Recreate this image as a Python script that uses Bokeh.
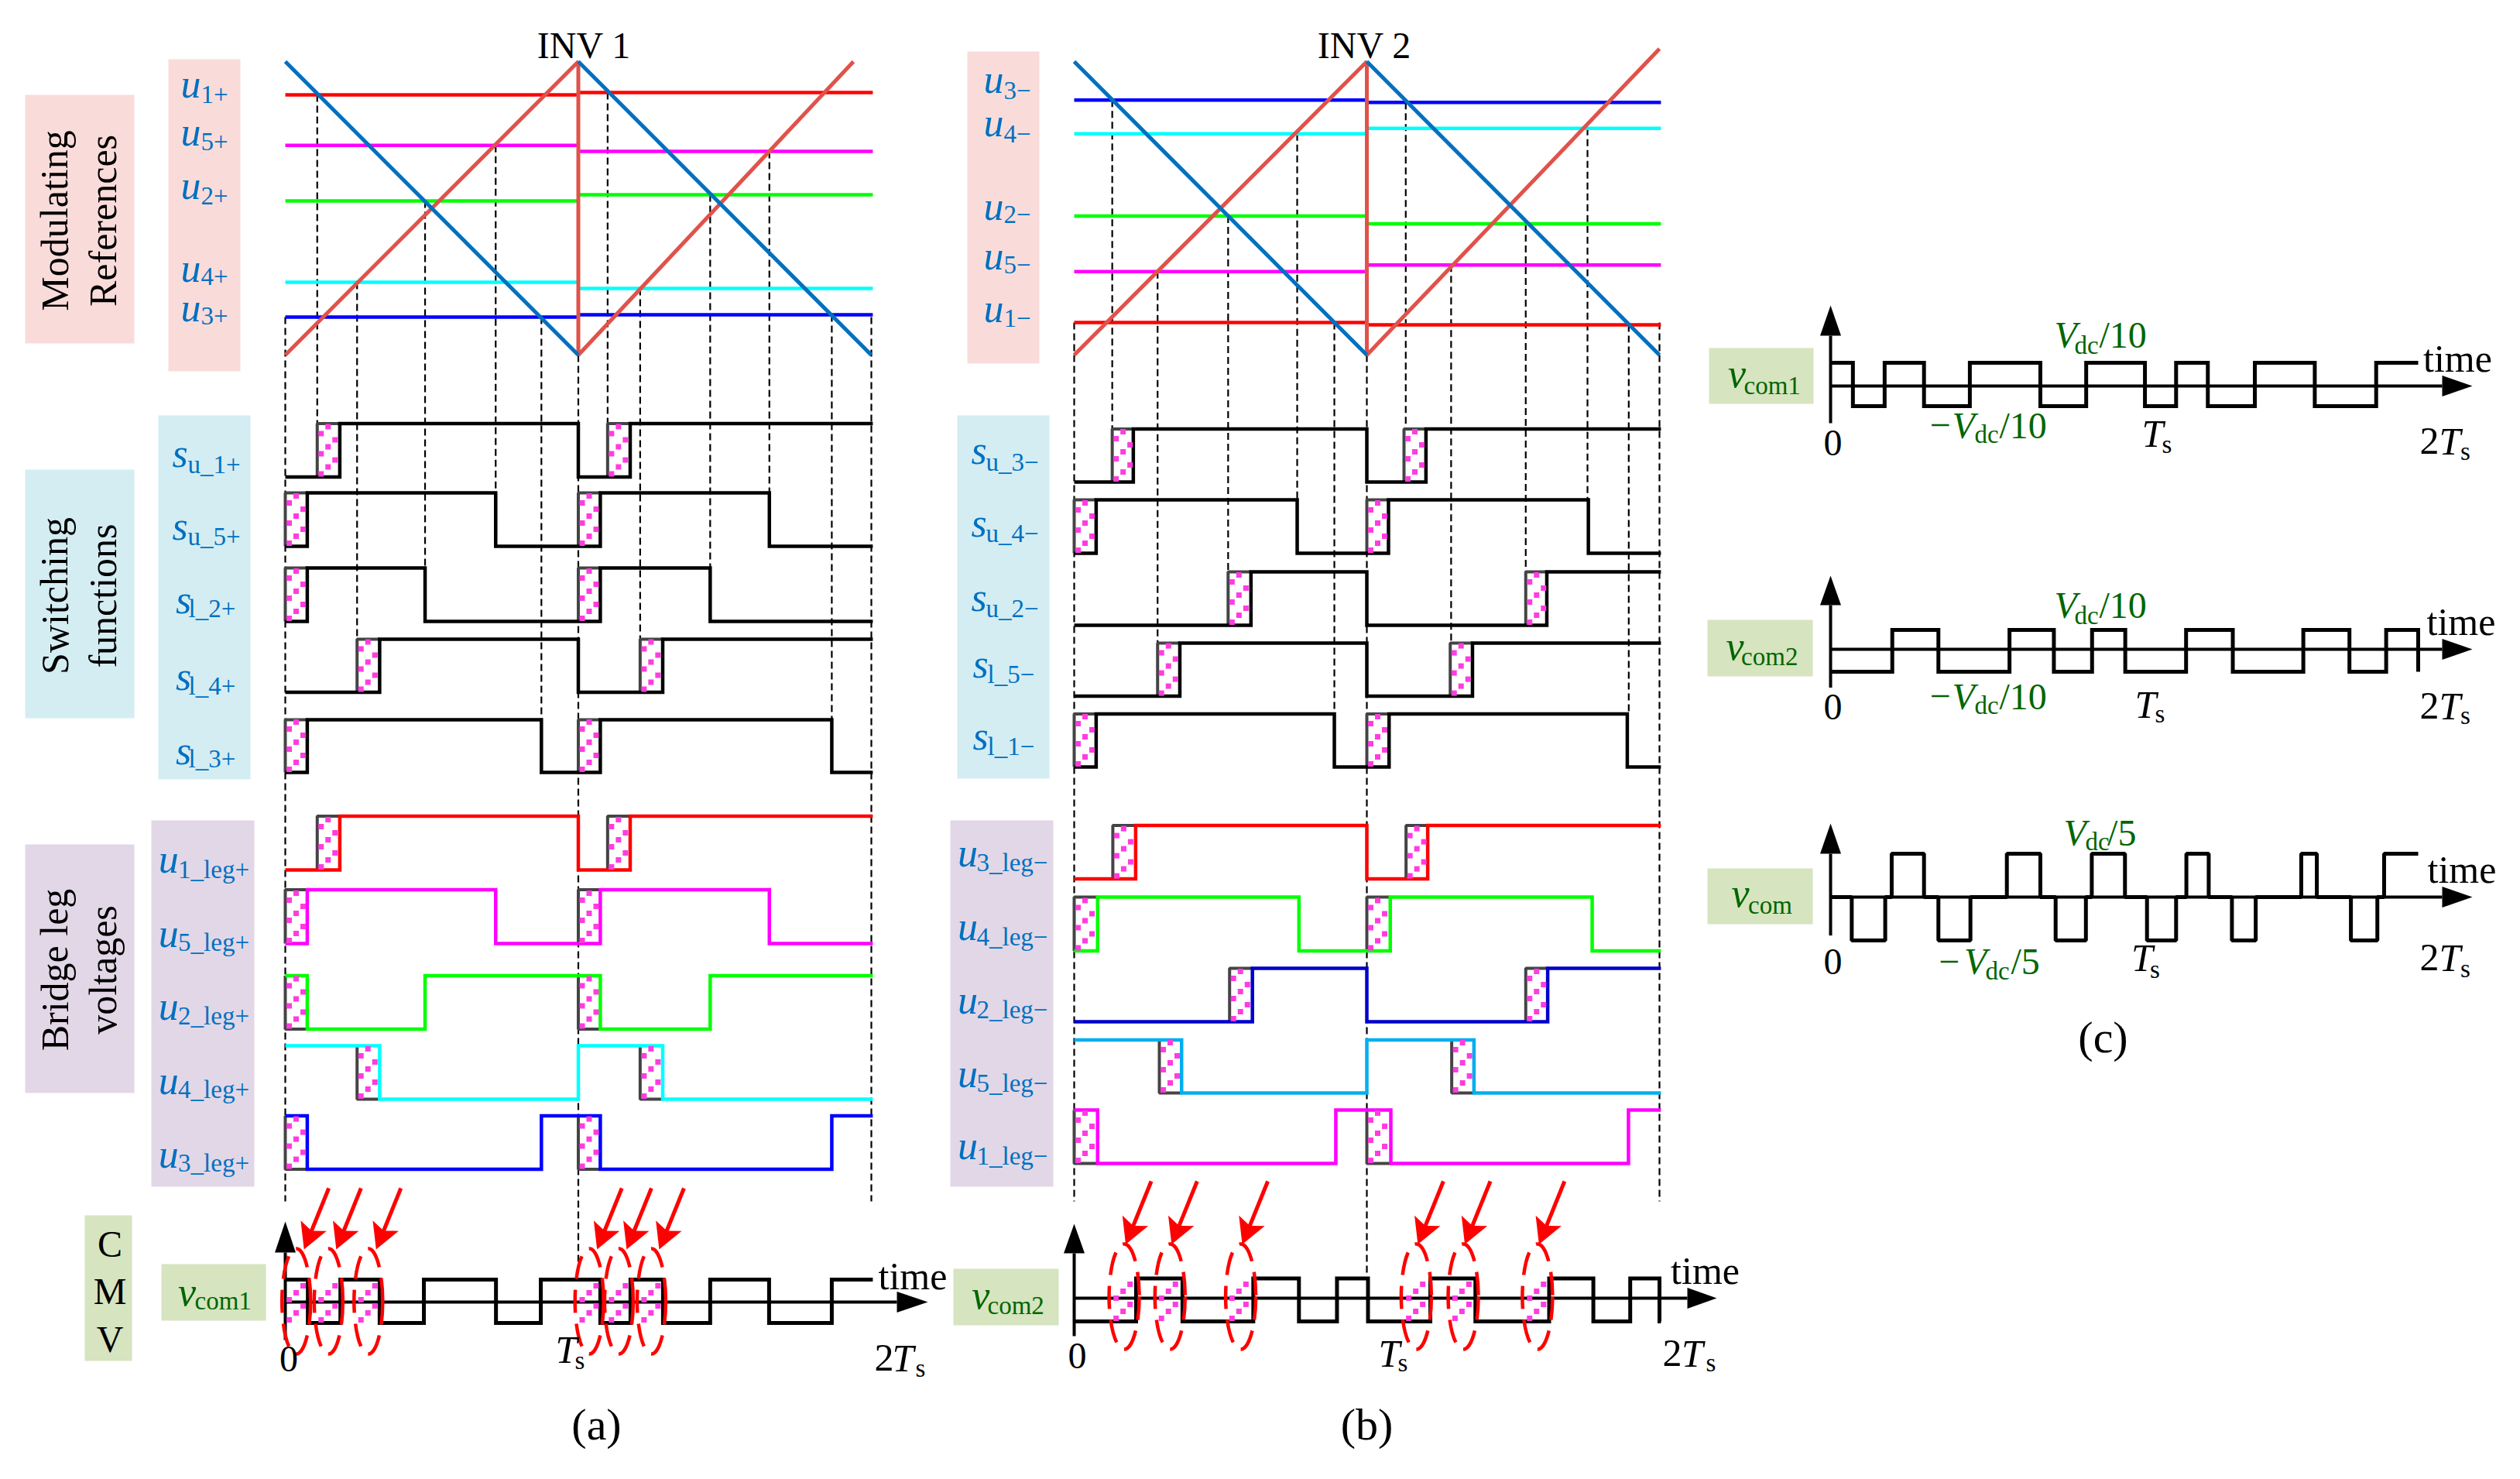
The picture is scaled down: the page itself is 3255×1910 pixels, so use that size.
from bokeh.plotting import figure
from bokeh.models import ColumnDataSource
from bokeh.core.properties import value, field
from bokeh.embed import file_html
from bokeh.resources import INLINE
import math

# ---------------- data: switching instants in units of Ts, references in p.u. ----------------
# INV 1 modulating references (first Ts, second Ts), carrier peak = +1, trough = -1
a_refs = {"u1": (0.773, 0.789), "u5": (0.429, 0.388), "u2": (0.050, 0.092), "u4": (-0.504, -0.546), "u3": (-0.741, -0.726)}
b_refs = {"u3": (0.737, 0.721), "u4": (0.508, 0.545), "u2": (-0.053, -0.106), "u5": (-0.431, -0.386), "u1": (-0.778, -0.794)}
# crossing instants
a_cross = [0.109, 0.245, 0.477, 0.718, 0.874, 1.100, 1.211, 1.450, 1.652, 1.865]
b_cross = [0.130, 0.285, 0.526, 0.762, 0.889, 1.133, 1.288, 1.543, 1.754, 1.895]
# switching functions: (initial state, transitions)
a_s1 = (0, [0.186, 1.0, 1.177])
a_s5 = (0, [0.075, 0.718, 1.075, 1.652])
a_s2 = (0, [0.075, 0.477, 1.075, 1.450])
a_s4 = (0, [0.322, 1.0, 1.288])
a_s3 = (0, [0.075, 0.874, 1.075, 1.865])
b_s3 = (0, [0.202, 1.0, 1.202])
b_s4 = (0, [0.075, 0.762, 1.074, 1.757])
b_s2 = (0, [0.604, 1.0, 1.615])
b_s5 = (0, [0.361, 1.0, 1.361])
b_s1 = (0, [0.075, 0.889, 1.076, 1.890])
# bridge leg voltages
a_l1 = (0, [0.186, 1.0, 1.177])
a_l5 = (0, [0.075, 0.718, 1.075, 1.652])
a_l2 = (1, [0.075, 0.477, 1.075, 1.450])
a_l4 = (1, [0.322, 1.0, 1.288])
a_l3 = (1, [0.075, 0.874, 1.075, 1.865])
b_l3 = (0, [0.210, 1.0, 1.208])
b_l4 = (0, [0.080, 0.768, 1.080, 1.770])
b_l2 = (0, [0.609, 1.0, 1.618])
b_l5 = (1, [0.367, 1.0, 1.366])
b_l1 = (1, [0.080, 0.894, 1.082, 1.894])
# common-mode voltages
a_com = (1, [0.077, 0.188, 0.322, 0.473, 0.719, 0.872, 1.075, 1.178, 1.289, 1.450, 1.651, 1.865])
b_com = (0, [0.2115, 0.370, 0.612, 0.768, 0.898, 1.004, 1.217, 1.371, 1.623, 1.774, 1.900, 2.0])
c_com1 = (1, [0.076, 0.184, 0.318, 0.474, 0.714, 0.870, 1.070, 1.176, 1.284, 1.444, 1.648, 1.857])
c_com2 = (0, [0.210, 0.367, 0.609, 0.760, 0.890, 1.003, 1.210, 1.369, 1.609, 1.766, 1.891, 2.0])
c_com_t = [0.072, 0.186, 0.208, 0.318, 0.367, 0.476, 0.600, 0.714, 0.766, 0.869, 0.889, 1.002,
           1.077, 1.176, 1.211, 1.287, 1.366, 1.447, 1.602, 1.655, 1.771, 1.861, 1.884]
c_com_v = [0, -1, 0, 1, 0, -1, 0, 1, 0, -1, 0, 1, 0, -1, 0, 1, 0, -1, 0, 1, 0, -1, 0, 1]
# intervals with dead-time hatching
a_h_late1 = [(0.109, 0.186), (1.100, 1.177)]
a_h_first = [(0.0, 0.075), (1.0, 1.075)]
a_h_late2 = [(0.245, 0.322), (1.211, 1.288)]
b_h3 = [(0.130, 0.202), (1.127, 1.202)]
b_h_first = [(0.0, 0.075), (1.0, 1.074)]
b_h2 = [(0.526, 0.602), (1.543, 1.615)]
b_h5 = [(0.285, 0.361), (1.285, 1.361)]

# ---------------- layout helpers (the figure's scale is the reference's pixel grid) ----------------
W, H = 3239, 1894
p = figure(width=W, height=H, x_range=(0, W), y_range=(H, 0), output_backend="svg",
           toolbar_location=None, x_axis_type=None, y_axis_type=None, min_border=0,
           outline_line_color=None, background_fill_color="white", border_fill_color="white")
p.grid.visible = False

PA = (368.0, 378.5)
PB = (1387.0, 378.0)
PC = (2364.0, 379.5)
def X(P, t): return P[0] + P[1] * t

def box(x0, x1, y0, y1, c):
    p.quad(left=x0, right=x1, top=y0, bottom=y1, fill_color=c, line_color=None)

PINK, CYANBOX, LILAC, GREENBOX = "#F9DCDA", "#D3EDF3", "#E2D7E7", "#D6E4BF"
box(32, 173, 122, 443, PINK); box(217, 310, 76, 479, PINK)
box(32, 173, 606, 927, CYANBOX); box(204, 323, 536, 1006, CYANBOX)
box(32, 173, 1090, 1411, LILAC); box(195, 328, 1059, 1532, LILAC)
box(109, 170, 1569, 1757, GREENBOX); box(208, 343, 1632, 1705, GREENBOX)
box(1249, 1342, 66, 469, PINK); box(1236, 1355, 536, 1005, CYANBOX)
box(1227, 1360, 1059, 1532, LILAC); box(1231, 1367, 1638, 1711, GREENBOX)
box(2207, 2342, 449, 521, GREENBOX); box(2205, 2341, 800, 873, GREENBOX); box(2205, 2341, 1121, 1193, GREENBOX)

def wave(P, spec, hi, lo, color, width=4.5, end=2.005):
    st, ts = spec
    xs, ys = [X(P, 0)], [hi if st else lo]
    for t in ts:
        xs += [X(P, t), X(P, t)]
        ys += [hi if st else lo, lo if st else hi]
        st = 1 - st
    xs.append(X(P, end)); ys.append(hi if st else lo)
    p.line(xs, ys, line_color=color, line_width=width, line_join="miter")

def dashes(xs, y0, y1):
    p.multi_line([[x, x] for x in xs], [[a, b] for a, b in zip(y0, y1)], line_color="black",
                 line_width=2.2, line_dash="9 5")

sq_x, sq_y = [], []
def hatch(P, iv, y0, y1, edge=None):
    step, period = 9.0, 26.0
    for a, b in iv:
        xa, xb = X(P, a), X(P, b)
        c = 0
        x = xa + 5
        while x < xb - 2:
            k = -3
            while k < 12:
                y = y1 - 4 - c * step + (k * period)
                if y0 + 2 < y < y1 - 1:
                    sq_x.append(x); sq_y.append(y)
                k += 1
            x += step; c += 1
        if edge:
            yy = y0 if edge == "top" else y1
            p.line([xa, xa, xb], [y1 if edge == "top" else y0, yy, yy], line_color="#444444", line_width=4)

# modulating references and carriers
YT, YB = 79.0, 458.0
def Y(m): return YT + (1 - m) * (YB - YT) / 2.0
REFCOL = {"u1": "#FF0000", "u5": "#FF00FF", "u2": "#00FF00", "u4": "#00FFFF", "u3": "#0000FF"}

def refpanel(P, refs, colmap, red_end, cross, crossrefs, crosstops):
    # dashed drop-lines first
    x0s = [X(P, 0), X(P, 2)]
    for x, b in zip(x0s, [1551, 1551]):
        dashes([x], [Y(refs[list(refs)[-1]][0])], [b])
    dashes([X(P, 1)], [YB], [1645])
    dashes([X(P, t) for t in cross], [Y(m) for m in crossrefs], crosstops)
    for k, (m1, m2) in refs.items():
        c = colmap[k]
        p.line([X(P, 0), X(P, 1)], [Y(m1), Y(m1)], line_color=c, line_width=4.5)
        p.line([X(P, 1), X(P, 2.005)], [Y(m2), Y(m2)], line_color=c, line_width=4.5)
    p.line([X(P, 0), X(P, 1), X(P, 1), X(P, red_end[0])], [YB, YT, YB, red_end[1]], line_color="#E0524A", line_width=5)
    p.line([X(P, 0), X(P, 1)], [YT, YB], line_color="#0070C0", line_width=5)
    p.line([X(P, 1), X(P, 2)], [YT, YB], line_color="#0070C0", line_width=5)

refpanel(PA, a_refs, REFCOL, (1.939, YT), a_cross,
         [a_refs["u1"][0], a_refs["u4"][0], a_refs["u2"][0], a_refs["u5"][0], a_refs["u3"][0],
          a_refs["u1"][1], a_refs["u4"][1], a_refs["u2"][1], a_refs["u5"][1], a_refs["u3"][1]],
         [546.5, 825, 733, 636, 929, 546.5, 825, 733, 636, 929])
refpanel(PB, b_refs, REFCOL, (2.0, 62.5), b_cross,
         [b_refs["u3"][0], b_refs["u5"][0], b_refs["u2"][0], b_refs["u4"][0], b_refs["u1"][0],
          b_refs["u3"][1], b_refs["u5"][1], b_refs["u2"][1], b_refs["u4"][1], b_refs["u1"][1]],
         [553.5, 830, 738, 645, 921.5, 553.5, 830, 738, 645, 921.5])

# switching functions
for spec, iv, hi, lo in [(a_s1, a_h_late1, 546.5, 615.5), (a_s5, a_h_first, 636, 705), (a_s2, a_h_first, 733, 802),
                         (a_s4, a_h_late2, 825, 893.5), (a_s3, a_h_first, 929, 997)]:
    hatch(PA, iv, hi, lo, "top"); wave(PA, spec, hi, lo, "black")
for spec, iv, hi, lo in [(b_s3, b_h3, 553.5, 622), (b_s4, b_h_first, 645, 714), (b_s2, b_h2, 738, 807),
                         (b_s5, b_h5, 830, 898.6), (b_s1, b_h_first, 921.5, 990)]:
    hatch(PB, iv, hi, lo, "top"); wave(PB, spec, hi, lo, "black")

# bridge leg voltages
for spec, iv, hi, lo, c, e in [(a_l1, a_h_late1, 1053.4, 1123, "#FF0000", "top"), (a_l5, a_h_first, 1148.6, 1218, "#FF00FF", "top"),
                               (a_l2, a_h_first, 1259.4, 1328.5, "#00FF00", "bottom"), (a_l4, a_h_late2, 1350, 1419, "#00FFFF", "bottom"),
                               (a_l3, a_h_first, 1440.5, 1509.6, "#0000FF", "bottom")]:
    hatch(PA, iv, hi, lo, e); wave(PA, spec, hi, lo, c)
for spec, iv, hi, lo, c, e in [(b_l3, [(0.132, 0.210), (1.134, 1.208)], 1065.6, 1134.6, "#FF0000", "top"),
                               (b_l4, [(0.0, 0.080), (1.0, 1.080)], 1158, 1227.5, "#00FF00", "top"),
                               (b_l2, [(0.531, 0.609), (1.543, 1.618)], 1250, 1319, "#0000CC", "top"),
                               (b_l5, [(0.291, 0.367), (1.290, 1.366)], 1342.4, 1411, "#00AEEF", "bottom"),
                               (b_l1, [(0.0, 0.080), (1.0, 1.082)], 1433, 1502, "#FF00FF", "bottom")]:
    hatch(PB, iv, hi, lo, e); wave(PB, spec, hi, lo, c)

def axes(x, ytop, ybase, ybot, yh, xend_base, xend_tip, hw=13.5, vw=13.5):
    p.line([x, x], [ybase, ybot], line_color="black", line_width=4)
    p.line([x, xend_base], [yh, yh], line_color="black", line_width=4)
    p.patch([x - vw, x + vw, x], [ybase, ybase, ytop], fill_color="black", line_color=None)
    p.patch([xend_base, xend_base, xend_tip], [yh - hw, yh + hw, yh], fill_color="black", line_color=None)

# CMV of panels (a), (b)
a_hats = a_h_first[:1] + a_h_late1[:1] + a_h_late2[:1] + a_h_first[1:] + a_h_late1[1:] + a_h_late2[1:]
b_hats = [(0.130, 0.2115), (0.285, 0.370), (0.526, 0.612), (1.130, 1.208), (1.288, 1.371), (1.543, 1.623)]
hatch(PA, a_hats, 1652, 1708); hatch(PB, b_hats, 1650.6, 1706)
axes(X(PA, 0), 1577, 1617, 1730, 1681, 1158, 1198)
axes(X(PB, 0), 1580, 1618, 1725, 1676, 2179, 2217)
wave(PA, a_com, 1652, 1708, "black", 5, 2.005)
wave(PB, b_com, 1650.6, 1706, "black", 5, 2.005)

def red_marks(P, hats, off, ellw, yc, ellh, tipy, dx, dy):
    cx = [X(P, (a + b) / 2) for a, b in hats]
    p.ellipse(x=cx, y=[yc] * len(cx), width=[ellw] * len(cx), height=[ellh] * len(cx), fill_color=None,
              line_color="#FF0000", line_width=4.5, line_dash="30 14")
    for c in cx:
        tx, ty = c + off, tipy
        sx, sy = tx + dx, ty + dy
        L = math.hypot(dx, dy); ux, uy = dx / L, dy / L
        p.line([sx, tx + ux * 20], [sy, ty + uy * 20], line_color="#FF0000", line_width=5)
        bx, by = tx + ux * 33, ty + uy * 33
        p.patch([tx, bx - uy * 18, tx + ux * 26, bx + uy * 18], [ty, by + ux * 18, ty + uy * 26, by - ux * 18],
                fill_color="#FF0000", line_color=None)

red_marks(PA, a_hats, 10, 37, 1680, 136, 1613, 32, -79)
red_marks(PB, b_hats, 2, 39, 1674, 136, 1606.5, 33, -81.5)

# panel (c)
axes(X(PC, 0), 394, 433, 546, 498, 3154, 3193)
wave(PC, c_com1, 468, 524, "black", 5, 2.0)
axes(X(PC, 0), 743, 781, 887.5, 838, 3154, 3193)
wave(PC, c_com2, 813, 867, "black", 5, 2.0)
axes(X(PC, 0), 1063, 1102, 1207.6, 1158, 3154, 3193)
xs, ys = [X(PC, 0)], [1158.0]
LV = {0: 1158.0, 1: 1102.0, -1: 1214.0}
for t, v0, v1 in zip(c_com_t, c_com_v[:-1], c_com_v[1:]):
    xs += [X(PC, t), X(PC, t)]; ys += [LV[v0], LV[v1]]
xs.append(X(PC, 2.0)); ys.append(LV[1])
p.line(xs, ys, line_color="black", line_width=5)

p.rect(x=sq_x, y=sq_y, width=7, height=7, fill_color="#FF3CE0", line_color=None)

# ---------------- text ----------------
T = dict(x=[], y=[], text=[], size=[], color=[], style=[], align=[], angle=[])
BASE_K = 0.38   # distance between Bokeh's text anchor and the glyph baseline, per em
def t(x, y, s, size=48, color="black", style="normal", align="left", angle=0.0):
    if angle:
        x -= 0.33 * size
    else:
        y -= BASE_K * size
    T["x"].append(x); T["y"].append(y); T["text"].append(s); T["size"].append(f"{size}px")
    T["color"].append(color); T["style"].append(style); T["align"].append(align); T["angle"].append(angle)

BL, GR = "#0070C0", "#006600"
def sym(x, y, base, xs_, ys_, sub, color=BL, size=52):
    t(x, y, base, size, color, "italic"); t(xs_, ys_, sub, 33, color)

t(754, 76.5, "INV 1", 48, align="center"); t(1762, 76.5, "INV 2", 48, align="center")
up = math.pi / 2
t(86.5, 284.5, "Modulating", 50, align="center", angle=up); t(149, 284.5, "References", 50, align="center", angle=up)
t(86.5, 769, "Switching", 50, align="center", angle=up); t(149, 769, "functions", 50, align="center", angle=up)
t(86.5, 1252, "Bridge leg", 50, align="center", angle=up); t(149, 1252, "voltages", 50, align="center", angle=up)
t(141.6, 1624, "C", 48, align="center"); t(141.6, 1685, "M", 48, align="center"); t(141.6, 1747.5, "V", 48, align="center")

for b, s, y, ys_ in [("u", "1+", 128, 134), ("u", "5+", 190, 195.5), ("u", "2+", 259, 265), ("u", "4+", 365.5, 369), ("u", "3+", 416.5, 420)]:
    sym(233, y, b, 259, ys_, s)
for xb, xs_, s, y, ys_ in [(222, 242, "u_1+", 604.6, 612), (222, 242, "u_5+", 698.3, 705), (226.5, 243, "l_2+", 794, 798.5),
                           (226.5, 243, "l_4+", 893, 898), (226.5, 243, "l_3+", 988.5, 992)]:
    sym(xb, y, "s", xs_, ys_, s)
for s, y, ys_ in [("1_leg+", 1129, 1134.6), ("5_leg+", 1225, 1229), ("2_leg+", 1319, 1324), ("4_leg+", 1415, 1419), ("3_leg+", 1509.6, 1513.6)]:
    sym(204.3, y, "u", 229.6, ys_, s)
sym(229.6, 1688, "v", 251, 1692, "com1", GR)

for s, y, ys_ in [("3−", 122, 128.6), ("4−", 178, 185), ("2−", 286, 289), ("5−", 349.6, 354), ("1−", 418, 423)]:
    sym(1270, y, "u", 1296, ys_, s)
for xb, xs_, s, y, ys_ in [(1254, 1273, "u_3−", 601, 609), (1254, 1273, "u_4−", 695, 701.5), (1254, 1273, "u_2−", 791, 798.5),
                           (1256, 1275, "l_5−", 877, 883), (1256, 1275, "l_1−", 969.4, 976)]:
    sym(xb, y, "s", xs_, ys_, s)
for s, y, ys_ in [("3_leg−", 1120.7, 1126.5), ("4_leg−", 1216, 1221.7), ("2_leg−", 1310.5, 1316), ("5_leg−", 1406, 1411), ("1_leg−", 1499, 1505)]:
    sym(1236.5, y, "u", 1261, ys_, s)
sym(1254.7, 1692, "v", 1275, 1697.6, "com2", GR)

def Ts(xT, yT, xs_, ys_, two=None):
    if two is not None:
        t(two, yT, "2", 50)
    t(xT, yT, "T", 50, style="italic"); t(xs_, ys_, "s", 33)

t(372.5, 1773, "0", 48, align="center"); Ts(717, 1761.7, 742, 1769); Ts(1152, 1772, 1182, 1779, 1129)
t(1134, 1666, "time", 50)
t(770, 1861, "(a)", 58, align="center")
t(1391, 1769, "0", 48, align="center"); Ts(1780, 1766, 1805, 1772); Ts(2171.6, 1766, 2203, 1772, 2147)
t(2157.6, 1659, "time", 50)
t(1765, 1861, "(b)", 58, align="center")

def vdc(xm, xV, xd, xr, y, yd, s):
    if xm is not None:
        t(xm, y, "−", 48, GR)
    t(xV, y, "V", 48, GR, "italic"); t(xd, yd, "dc", 33, GR); t(xr, y, s, 48, GR)

sym(2231.4, 501.7, "v", 2252, 510, "com1", GR)
vdc(None, 2653, 2679, 2711, 450, 458, "/10"); vdc(2492, 2521, 2550, 2582, 567, 573, "/10")
t(2367, 589.5, "0", 48, align="center"); Ts(2766, 578, 2792, 586); Ts(3150, 588, 3177.5, 595, 3125); t(3129.5, 481, "time", 50)
sym(2229, 853.6, "v", 2248.6, 860, "com2", GR)
vdc(None, 2653, 2679, 2711, 799.6, 807, "/10"); vdc(2492, 2521, 2550, 2582, 917, 923, "/10")
t(2367, 931, "0", 48, align="center"); Ts(2757, 928, 2783, 934); Ts(3150, 930, 3177.5, 936, 3125); t(3134, 821, "time", 50)
sym(2236, 1172.5, "v", 2257.5, 1181.5, "com", GR)
vdc(None, 2665, 2693, 2721.6, 1093.7, 1099, "/5"); vdc(2503.6, 2536.5, 2564, 2597, 1259.6, 1266, "/5")
t(2367, 1259.6, "0", 48, align="center"); Ts(2752.5, 1255, 2776.5, 1263.6); Ts(3150, 1255, 3177.5, 1263, 3125); t(3135, 1141, "time", 50)
t(2716, 1361, "(c)", 58, align="center")

p.text(x="x", y="y", text="text", source=ColumnDataSource(T), text_font=value("Liberation Serif"),
       text_font_size=field("size"), text_color=field("color"), text_font_style=field("style"),
       text_align=field("align"), text_baseline=value("alphabetic"), angle=field("angle"))

open("out.html", "w").write(file_html(p, INLINE))
